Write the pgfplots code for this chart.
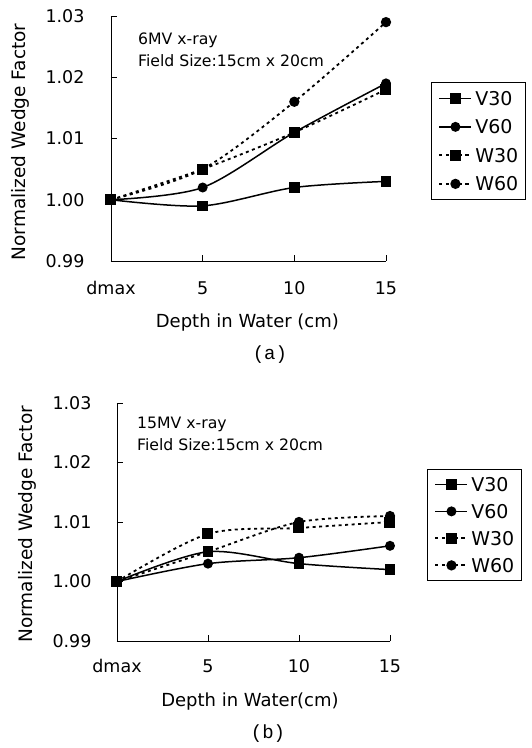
\documentclass[border=0pt]{standalone}
\usepackage{pgfplots}
\pgfplotsset{compat=1.18}
\usepackage{fontspec}
\setmainfont{DejaVu Sans}
\newfontfamily\capfont{Liberation Mono}

\pgfplotsset{
  wedge/.style={
    scale only axis,
    clip=false,
    axis lines=left,
    axis line style={-, line width=0.9pt},
    xmin=0, xmax=3, ymin=0.99, ymax=1.03,
    xtick={0,1,2,3}, xticklabels={dmax,5,10,15},
    ytick={0.99,1.00,1.01,1.02,1.03},
    yticklabel style={/pgf/number format/fixed, /pgf/number format/fixed zerofill,
      /pgf/number format/precision=2, /pgf/number format/assume math mode=true},
    tick align=inside, major tick length=6pt,
    tick style={line width=0.9pt, black},
    tick label style={font=\fontsize{17.5}{20}\selectfont},
    xlabel style={font=\fontsize{18}{20}\selectfont},
    ylabel style={font=\fontsize{18.5}{20}\selectfont},
    legend cell align=left,
    legend style={font=\fontsize{19}{21}\selectfont, draw=black, line width=0.9pt,
      anchor=north west, inner xsep=7pt, inner ysep=9pt, row sep=14.5pt, column sep=3pt,
      nodes={inner sep=0pt, text height=14pt, text depth=0pt}},
    legend image code/.code={\draw[mark repeat=2,mark phase=2] plot coordinates {(0pt,0pt) (16pt,0pt) (32pt,0pt)};},
  },
  v30/.style={black, line width=1.5pt, smooth, tension=0.5, mark=square*, mark size=4.6pt},
  v60/.style={black, line width=1.5pt, smooth, tension=0.5, mark=*, mark size=4.2pt},
  w30/.style={black, line width=1.8pt, dash pattern=on 3pt off 3.5pt, smooth, tension=0.5, mark=square*, mark size=4.6pt, mark options={solid}},
  w60/.style={black, line width=1.8pt, dash pattern=on 3pt off 3.5pt, smooth, tension=0.5, mark=*, mark size=4.2pt, mark options={solid}},
}

\begin{document}
\begin{tikzpicture}
\useasboundingbox (0,0) rectangle (531pt,748pt);

% (a) 6MV
\begin{axis}[wedge,
  at={(111pt,487pt)}, anchor=south west,
  width=275pt, height=245pt,
  xticklabel style={yshift=-17pt},
  yticklabel style={xshift=-23pt},
  xlabel={Depth in Water (cm)},
  ylabel={Normalized Wedge Factor},
  xlabel style={at={(axis description cs:0.496,-0.253)}, anchor=center},
  ylabel style={at={(axis description cs:-0.33,0.486)}, anchor=center},
  legend style={at={(axis description cs:1.164,0.731)}},
]
\addplot[v30] coordinates {(0,1.000)(1,0.999)(2,1.002)(3,1.003)};
\addplot[v60] coordinates {(0,1.000)(1,1.002)(2,1.011)(3,1.019)};
\addplot[w30] coordinates {(0,1.000)(1,1.005)(2,1.011)(3,1.018)};
\addplot[w60] coordinates {(0,1.000)(1,1.005)(2,1.016)(3,1.029)};
\legend{V30,V60,W30,W60}
\node[anchor=north west, inner sep=0pt, align=left, font=\fontsize{15.7}{22}\selectfont]
  at (axis description cs:0.098,0.931) {6MV x-ray\\Field Size:15cm x 20cm};
\node[font=\capfont\fontsize{19}{21}\selectfont] at (axis description cs:0.578,-0.384) {(a)};
\end{axis}

% (b) 15MV
\begin{axis}[wedge,
  at={(117pt,107pt)}, anchor=south west,
  width=273pt, height=238pt,
  xticklabel style={yshift=-15pt},
  yticklabel style={xshift=-22pt},
  xlabel={Depth in Water(cm)},
  ylabel={Normalized Wedge Factor},
  xlabel style={at={(axis description cs:0.487,-0.256)}, anchor=center},
  ylabel style={at={(axis description cs:-0.33,0.49)}, anchor=center},
  legend style={at={(axis description cs:1.136,0.723)}, row sep=13pt, inner ysep=8pt},
]
\addplot[v30] coordinates {(0,1.000)(1,1.005)(2,1.003)(3,1.002)};
\addplot[v60] coordinates {(0,1.000)(1,1.003)(2,1.004)(3,1.006)};
\addplot[w30] coordinates {(0,1.000)(1,1.008)(2,1.009)(3,1.010)};
\addplot[w60] coordinates {(0,1.000)(1,1.005)(2,1.010)(3,1.011)};
\legend{V30,V60,W30,W60}
\node[anchor=north west, inner sep=0pt, align=left, font=\fontsize{15.7}{22}\selectfont]
  at (axis description cs:0.073,0.941) {15MV x-ray\\Field Size:15cm x 20cm};
\node[font=\capfont\fontsize{19}{21}\selectfont] at (axis description cs:0.553,-0.391) {(b)};
\end{axis}
\end{tikzpicture}
\end{document}
